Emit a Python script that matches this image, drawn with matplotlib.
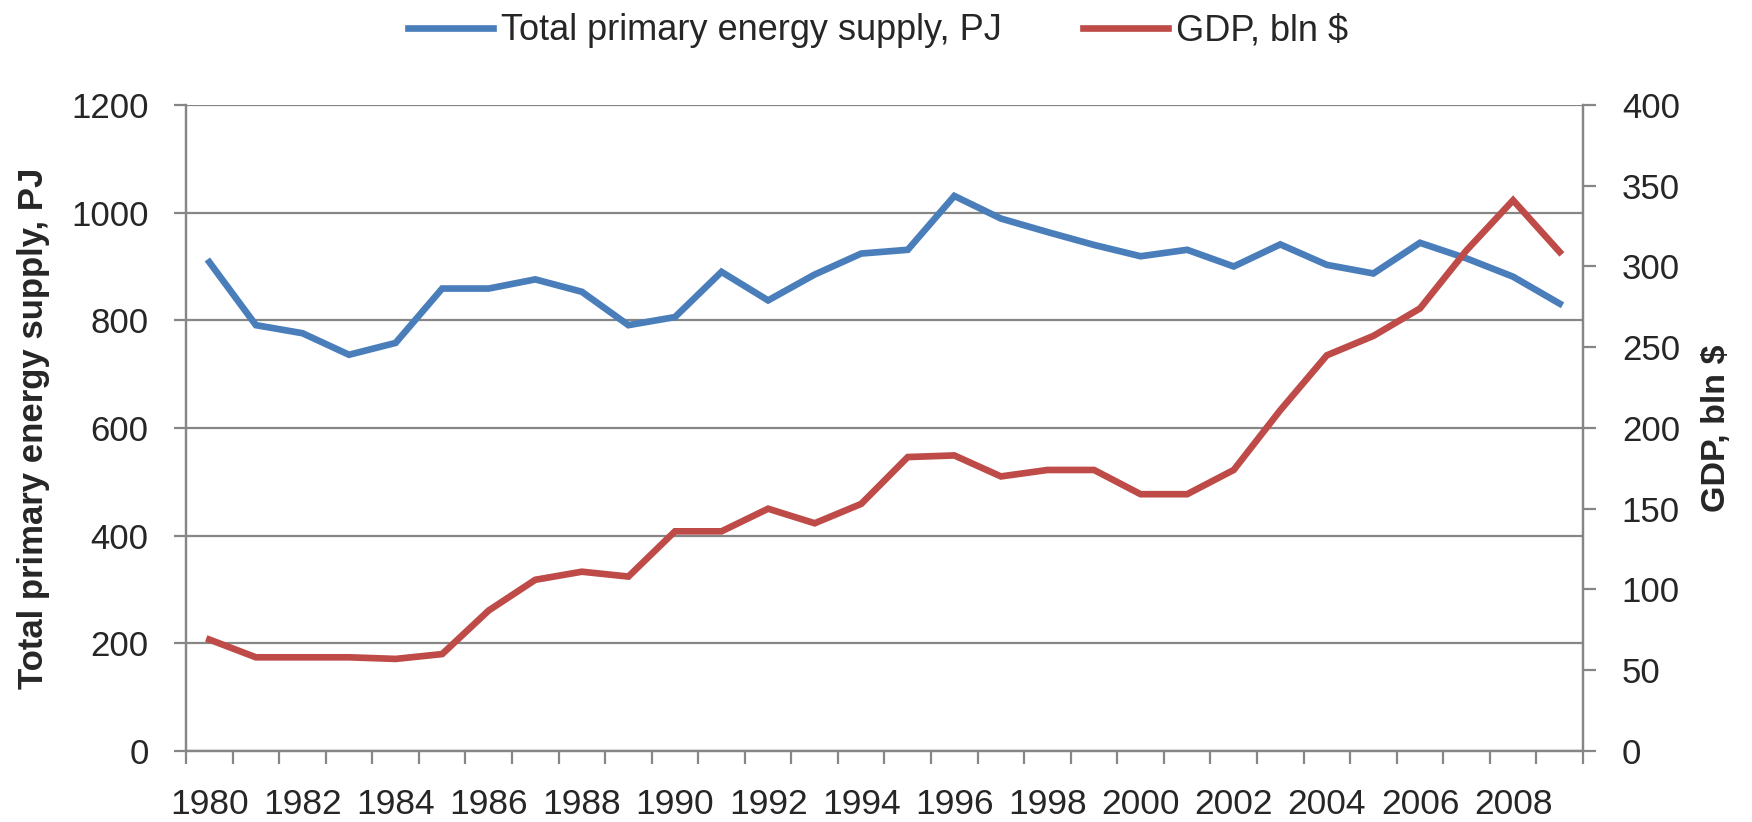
import matplotlib
matplotlib.use('Agg')
import matplotlib.pyplot as plt
import numpy as np

plt.rcParams['font.family'] = ['Liberation Sans', 'DejaVu Sans']

# годовые ряды 1980-2009
years = list(range(1980, 2010))
energy_pj = [908, 791, 776, 736, 758, 859, 859, 876, 853, 791,
             806, 890, 837, 885, 924, 931, 1031, 989, 964, 940,
             919, 931, 900, 941, 903, 887, 944, 915, 881, 831]
gdp_bln = [69, 58, 58, 58, 57, 60, 87, 106, 111, 108,
           136, 136, 150, 141, 153, 182, 183, 170, 174, 174,
           159, 159, 174, 211, 245, 257, 274, 310, 341, 309]
year_labels = list(range(1980, 2009, 2))
left_ticks = list(range(0, 1201, 200))
right_ticks = list(range(0, 401, 50))

blue = '#4A7EBB'
red = '#BE4B48'
grey = '#868686'
txt = '#262626'

fig = plt.figure(figsize=(17.52, 8.22), dpi=100)
ax = fig.add_axes([0.1062, 0.0864, 0.7973, 0.7859])
ax2 = ax.twinx()

l1, = ax.plot(years, energy_pj, color=blue, lw=4.8, solid_joinstyle='miter',
              label='Total primary energy supply, PJ', zorder=3)
l2, = ax2.plot(years, gdp_bln, color=red, lw=4.8, solid_joinstyle='miter',
               label='GDP, bln $', zorder=3)

ax.set_xlim(1979.5, 2009.5)
ax.set_ylim(0, 1200)
ax2.set_ylim(0, 400)

ax.set_yticks(left_ticks)
ax2.set_yticks(right_ticks)
ax.set_xticks(year_labels)
ax.set_xticks(np.arange(1979.5, 2010.0, 1.0), minor=True)

ax.yaxis.grid(True, color=grey, lw=1.6, zorder=0)
ax.set_axisbelow(True)

for a in (ax, ax2):
    a.spines['top'].set_visible(False)
    for s in ('left', 'right', 'bottom'):
        a.spines[s].set_color(grey)
        a.spines[s].set_linewidth(1.6)

ax.tick_params(axis='x', which='major', length=0, pad=27, labelsize=25.5, labelcolor=txt)
ax.tick_params(axis='x', which='minor', length=9, width=1.6, color=grey, direction='out')
ax.tick_params(axis='y', length=9, width=1.6, color=grey, pad=18, labelsize=25, labelcolor=txt)
ax2.tick_params(axis='y', length=9, width=1.6, color=grey, pad=19, labelsize=25, labelcolor=txt)

fig.text(34 / 1752, 0.4794, 'Total primary energy supply, PJ', rotation=90,
         ha='center', va='center', fontsize=25, fontweight='bold', color=txt)
fig.text(1717 / 1752, 0.4794, 'GDP, bln $', rotation=90,
         ha='center', va='center', fontsize=24.5, fontweight='bold', color=txt)

fig.legend(handles=[l1, l2], ncol=2, loc='center', bbox_to_anchor=(878 / 1752, 1 - 31 / 822),
           frameon=False, fontsize=26, handlelength=2.35, handletextpad=0.22,
           columnspacing=2.27, labelcolor=txt)

fig.savefig('out.png', dpi=100)
